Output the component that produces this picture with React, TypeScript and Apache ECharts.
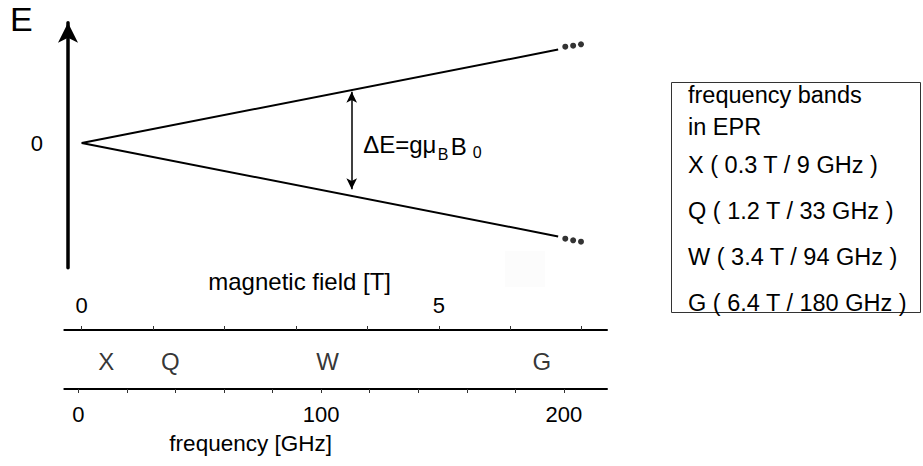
import React, { useEffect, useRef } from "react";
import * as echarts from "echarts";

// ---- data ----
const levelField = [0, 6.67]; // T
const upperLevel = [0, 93.4]; // E/h, GHz (+1/2 level)
const lowerLevel = [0, -93.4]; // E/h, GHz (-1/2 level)
const dotField = [6.77, 6.88, 6.99];
const upperDots = [96.3, 97.3, 98.7];
const lowerDots = [-95.7, -97.3, -98.7];
const gapField = 3.78;
const gapEnds = [51.3, -46.3];

const bandNames = ["X", "Q", "W", "G"];
const bandField = [0.3, 1.2, 3.4, 6.4];
const bandFreq = [9, 33, 94, 180];

const fieldTicks = [0, 1, 2, 3, 4, 5, 6, 7];
const fieldLabels = [0, 5];
const freqTicks = [0, 20, 40, 60, 80, 100, 120, 140, 160, 180, 200];
const freqLabels = [0, 100, 200];
const energyLabels = [0];
const legendTitle = ["frequency bands", "in EPR"];

const FONT = "'Liberation Sans', Arial, Helvetica, sans-serif";

export default function App() {
  const ref = useRef<HTMLDivElement>(null);

  useEffect(() => {
    if (!ref.current) return;
    const chart = echarts.init(ref.current, null, { renderer: "svg" });

    const option: any = {
      animation: false,
      backgroundColor: "#fff",
      textStyle: { fontFamily: FONT, color: "#000" },
      grid: [
        { left: 68, top: 22.7, width: 539, height: 245 },
        { left: 64.3, top: 330, width: 542.7, height: 59 },
      ],
      xAxis: [
        {
          gridIndex: 0,
          type: "value",
          min: -0.1918,
          max: 7.354,
          show: false,
        },
        {
          gridIndex: 1,
          type: "value",
          position: "top",
          min: -0.2436,
          max: 7.354,
          axisLine: { show: true, onZero: false, lineStyle: { color: "#000", width: 2 } },
          axisTick: {
            show: true,
            inside: false,
            length: 4,
            customValues: fieldTicks,
            lineStyle: { color: "#333", width: 1 },
          },
          axisLabel: {
            show: true,
            customValues: fieldLabels,
            fontSize: 22,
            color: "#000",
            margin: 14,
            fontFamily: FONT,
          },
          splitLine: { show: false },
          name: "magnetic field [T]",
          nameLocation: "middle",
          nameGap: 37,
          nameTextStyle: { fontSize: 24, color: "#000", fontFamily: FONT, padding: [0, 72, 0, 0] },
        },
        {
          gridIndex: 1,
          type: "value",
          position: "bottom",
          min: -5.77,
          max: 217.75,
          axisLine: { show: true, onZero: false, lineStyle: { color: "#000", width: 2 } },
          axisTick: {
            show: true,
            inside: false,
            length: 4,
            customValues: freqTicks,
            lineStyle: { color: "#333", width: 1 },
          },
          axisLabel: {
            show: true,
            customValues: freqLabels,
            fontSize: 22,
            color: "#000",
            margin: 14,
            fontFamily: FONT,
          },
          splitLine: { show: false },
          name: "frequency [GHz]",
          nameLocation: "middle",
          nameGap: 43,
          nameTextStyle: { fontSize: 22.5, color: "#000", fontFamily: FONT, padding: [0, 170, 0, 0] },
        },
      ],
      yAxis: [
        {
          gridIndex: 0,
          type: "value",
          min: -124.7,
          max: 120.3,
          axisLine: {
            show: true,
            onZero: false,
            symbol: ["none", "arrow"],
            symbolSize: [15, 20],
            lineStyle: { color: "#000", width: 3.5 },
          },
          axisTick: { show: false },
          splitLine: { show: false },
          axisLabel: {
            show: true,
            customValues: energyLabels,
            fontSize: 22,
            color: "#000",
            margin: 25,
            fontFamily: FONT,
          },
        },
        { gridIndex: 1, type: "value", min: 0, max: 1, show: false },
      ],
      series: [
        {
          type: "line",
          xAxisIndex: 0,
          yAxisIndex: 0,
          data: levelField.map((b, i) => [b, upperLevel[i]]),
          showSymbol: false,
          lineStyle: { color: "#000", width: 2 },
          silent: true,
          markLine: {
            silent: true,
            symbol: ["arrow", "arrow"],
            symbolSize: [8, 11],
            lineStyle: { color: "#000", width: 1.5, type: "solid" },
            itemStyle: { color: "#000" },
            label: { show: false },
            emphasis: { disabled: true },
            data: [[{ coord: [gapField, gapEnds[0]] }, { coord: [gapField, gapEnds[1]] }]],
          },
        },
        {
          type: "line",
          xAxisIndex: 0,
          yAxisIndex: 0,
          data: levelField.map((b, i) => [b, lowerLevel[i]]),
          showSymbol: false,
          lineStyle: { color: "#000", width: 2 },
          silent: true,
        },
        {
          type: "scatter",
          xAxisIndex: 0,
          yAxisIndex: 0,
          data: dotField.map((b, i) => [b, upperDots[i]]).concat(dotField.map((b, i) => [b, lowerDots[i]])),
          symbol: "circle",
          symbolSize: 6,
          itemStyle: { color: "#000" },
          silent: true,
        },
        {
          type: "scatter",
          xAxisIndex: 1,
          yAxisIndex: 1,
          data: bandField.map((b) => [b, 0.5]),
          symbolSize: 1,
          itemStyle: { color: "rgba(0,0,0,0)" },
          silent: true,
          label: {
            show: true,
            position: "inside",
            offset: [3, 2],
            formatter: (p: any) => bandNames[p.dataIndex],
            fontSize: 24,
            color: "#000",
            fontFamily: FONT,
          },
        },
      ],
    };

    chart.setOption(option);

    const p = chart.convertToPixel({ xAxisIndex: 0, yAxisIndex: 0 }, [gapField, 0]) as number[];
    const px = p[0];
    const py = p[1];

    const legendLines = legendTitle.concat(
      bandNames.map((n, i) => `${n} ( ${bandField[i]} T / ${bandFreq[i]} GHz )`)
    );
    const legendY = [95, 127, 165, 211, 257, 303];

    const graphic: any[] = [
      {
        type: "text",
        left: 10,
        top: 2,
        style: { text: "E", fontSize: 34, fontFamily: FONT, fill: "#000" },
        silent: true,
      },
      {
        type: "rect",
        shape: { x: 505, y: 251, width: 40, height: 36 },
        style: { fill: "#fcfcfc" },
        silent: true,
        z: -1,
      },
      {
        type: "rect",
        shape: { x: 671.5, y: 82.5, width: 249, height: 230 },
        style: { fill: "none", stroke: "#333", lineWidth: 1 },
        silent: true,
      },
      ...legendLines.map((t, i) => ({
        type: "text",
        x: 688,
        y: legendY[i],
        style: {
          text: t,
          fontSize: 23.5,
          fontFamily: FONT,
          fill: "#000",
          verticalAlign: "middle",
          align: "left",
        },
        silent: true,
      })),
      {
        type: "text",
        x: px + 11.5,
        y: py + 1.5,
        style: { text: "ΔE=gμ", fontSize: 24, fontFamily: FONT, fill: "#000", verticalAlign: "middle", align: "left" },
        silent: true,
      },
      {
        type: "text",
        x: px + 86,
        y: py + 11.5,
        style: { text: "B", fontSize: 16, fontFamily: FONT, fill: "#000", verticalAlign: "middle", align: "left" },
        silent: true,
      },
      {
        type: "text",
        x: px + 99,
        y: py + 3.5,
        style: { text: "B", fontSize: 24, fontFamily: FONT, fill: "#000", verticalAlign: "middle", align: "left" },
        silent: true,
      },
      {
        type: "text",
        x: px + 121,
        y: py + 9.5,
        style: { text: "0", fontSize: 16, fontFamily: FONT, fill: "#000", verticalAlign: "middle", align: "left" },
        silent: true,
      },
    ];

    chart.setOption({ graphic });

    return () => {
      chart.dispose();
    };
  }, []);

  return (
    <div
      ref={ref}
      style={{ position: "fixed", left: 0, top: 0, width: 923, height: 466, background: "#fff" }}
    />
  );
}
